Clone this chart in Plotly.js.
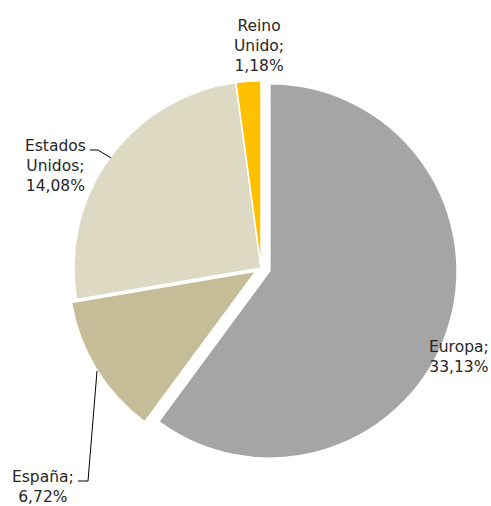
<!DOCTYPE html>
<html>
<head>
<meta charset="utf-8">
<script src="https://cdn.plot.ly/plotly-3.0.1.min.js"></script>
<style>html,body{margin:0;padding:0;background:#fff;}#chart{width:491px;height:506px;}</style>
</head>
<body>
<div id="chart"></div>
<script>
// Data
const labels = ['Europa', 'España', 'Estados Unidos', 'Reino Unido'];
const values = [33.13, 6.72, 14.08, 1.18];
const colors = ['#A5A5A5', '#C4BD97', '#DDD9C3', '#FFC000'];
const pulls = [0.05, 0.032, 0, 0];

const W = 491, H = 506;
const px = x => x / W;
const py = y => 1 - y / H;

// label placement (pixel centres) and leader lines
const labelPos = [[459, 357], [43, 487], [55, 166], [259, 46]];
const fmt = v => v.toFixed(2).replace('.', ',') + '%';
const annotations = labels.map((l, i) => ({
  text: l.replace(' ', '<br>') + ';<br>' + fmt(values[i]),
  x: px(labelPos[i][0]), y: py(labelPos[i][1]),
  xref: 'paper', yref: 'paper', xanchor: 'center', yanchor: 'middle',
  showarrow: false, align: 'center',
  font: {family: 'DejaVu Sans', size: 15.5, color: '#262626'}
}));

const leader = pts => ({
  type: 'path', xref: 'paper', yref: 'paper',
  path: 'M' + pts.map(p => px(p[0]) + ',' + py(p[1])).join(' L'),
  line: {color: '#000', width: 1}
});
const shapes = [
  leader([[90, 150], [98, 150], [111, 158]]),
  leader([[78, 481], [88, 481], [97, 371]])
];

const trace = {
  type: 'pie',
  labels: labels,
  values: values,
  sort: false,
  direction: 'clockwise',
  rotation: 0,
  pull: pulls,
  textinfo: 'none',
  hoverinfo: 'none',
  marker: {colors: colors, line: {color: '#ffffff', width: 1.5}},
  domain: {x: [px(64.5), px(457.5)], y: [py(464.5), py(71.5)]}
};

const layout = {
  width: W, height: H,
  margin: {l: 0, r: 0, t: 0, b: 0},
  showlegend: false,
  paper_bgcolor: '#fff',
  annotations: annotations,
  shapes: shapes
};

Plotly.newPlot('chart', [trace], layout, {displayModeBar: false, staticPlot: true});
</script>
</body>
</html>
